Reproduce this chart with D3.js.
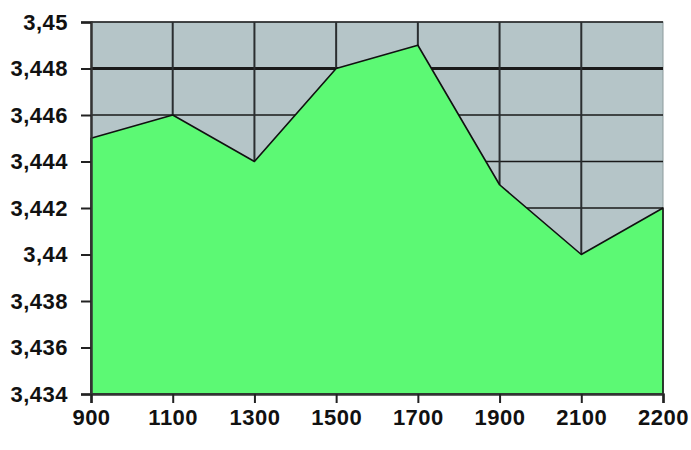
<!DOCTYPE html>
<html>
<head>
<meta charset="utf-8">
<script src="https://cdn.jsdelivr.net/npm/d3@7"></script>
<style>
  body { margin: 0; background: #fff; }
  svg { display: block; }
</style>
</head>
<body>
<div id="chart"></div>
<script>
// data
const categories = ["900", "1100", "1300", "1500", "1700", "1900", "2100", "2200"];
const values = [3.445, 3.446, 3.444, 3.448, 3.449, 3.443, 3.440, 3.442];
const yTicks = [3.434, 3.436, 3.438, 3.44, 3.442, 3.444, 3.446, 3.448, 3.45];

const width = 691, height = 450;
const margin = { top: 22, right: 28, bottom: 56, left: 91 };
const innerWidth = width - margin.left - margin.right;
const innerHeight = height - margin.top - margin.bottom;

const svg = d3.select("#chart").append("svg")
    .attr("width", width)
    .attr("height", height)
    .attr("xmlns", "http://www.w3.org/2000/svg");

const g = svg.append("g")
    .attr("transform", `translate(${margin.left}, ${margin.top})`);

const x = d3.scalePoint().domain(categories).range([0, innerWidth]);
const y = d3.scaleLinear().domain([3.434, 3.45]).range([innerHeight, 0]);

const fmt = v => String(+v.toFixed(3)).replace(".", ",");

// plot background
g.append("rect")
    .attr("width", innerWidth)
    .attr("height", innerHeight)
    .attr("fill", "#b5c5c8")
    .attr("stroke", "#8c9a9c")
    .attr("stroke-width", 1);

// grid lines
g.append("g").selectAll("line.h")
    .data(yTicks.slice(1))
    .enter().append("line")
    .attr("x1", 0).attr("x2", innerWidth)
    .attr("y1", d => y(d)).attr("y2", d => y(d))
    .attr("stroke", "#1a1a1a")
    .attr("stroke-width", d => Math.abs(d - 3.448) < 1e-9 ? 3 : 1.5);

g.append("g").selectAll("line.v")
    .data(categories.slice(1, -1))
    .enter().append("line")
    .attr("x1", d => x(d)).attr("x2", d => x(d))
    .attr("y1", 0).attr("y2", innerHeight)
    .attr("stroke", "#2a2e30")
    .attr("stroke-width", 2);

// area
const points = categories.map((c, i) => ({ c, v: values[i] }));
const area = d3.area()
    .x(d => x(d.c))
    .y0(innerHeight)
    .y1(d => y(d.v));

g.append("path")
    .datum(points)
    .attr("d", area)
    .attr("fill", "#5cf974")
    .attr("stroke", "#111")
    .attr("stroke-width", 1.6)
    .attr("stroke-linejoin", "round");

// axes
const yAxis = g.append("g")
    .call(d3.axisLeft(y).tickValues(yTicks).tickSize(10).tickPadding(13).tickFormat(fmt));
const xAxis = g.append("g")
    .attr("transform", `translate(0, ${innerHeight})`)
    .call(d3.axisBottom(x).tickSize(9).tickPadding(6));

[yAxis, xAxis].forEach(a => {
    a.attr("font-size", 22)
        .attr("font-family", "'Liberation Sans', Arial, sans-serif")
        .attr("font-weight", "bold");
    a.select(".domain").attr("stroke", "#333").attr("stroke-width", 2.5);
    a.selectAll(".tick line").attr("stroke", "#222").attr("stroke-width", 2);
    a.selectAll("text")
        .attr("fill", "#111")
        .style("letter-spacing", "0.5px");
});
</script>
</body>
</html>
